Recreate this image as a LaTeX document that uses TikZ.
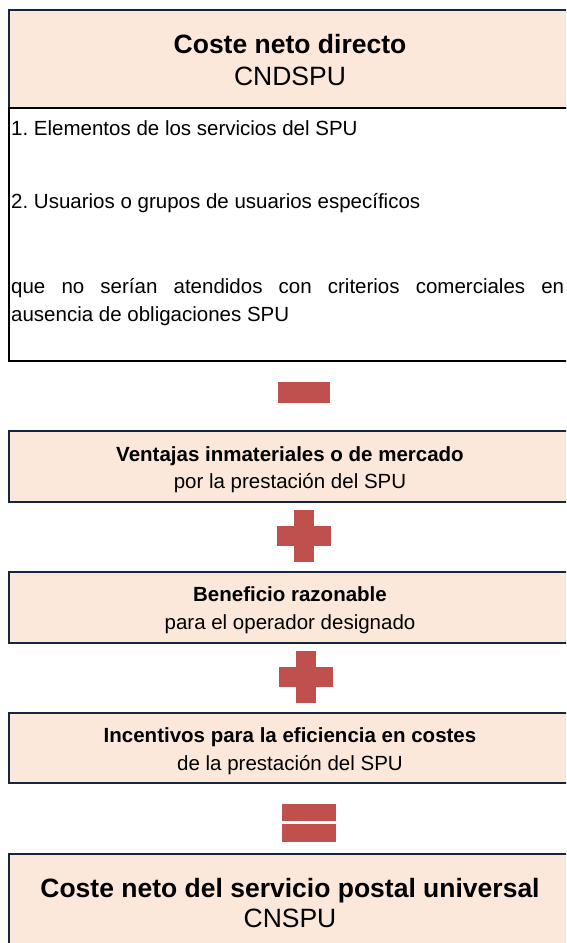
\documentclass[tikz,border=0pt]{standalone}
\usepackage{fontspec}
\setmainfont{Liberation Sans}
\frenchspacing
\definecolor{peach}{HTML}{FCE8DA}
\definecolor{navy}{HTML}{16263F}
\definecolor{signred}{HTML}{C0504D}
\begin{document}
\begin{tikzpicture}[x=1pt,y=-1pt,
  peachbox/.style={fill=peach, draw=navy, line width=2pt},
  whitebox/.style={fill=white, draw=black, line width=2pt},
  signbar/.style={fill=signred, draw=none},
  boldtxt/.style={font=\fontsize{20.5}{24}\selectfont\bfseries, inner sep=0pt, anchor=base},
  regtxt/.style={font=\fontsize{20.5}{24}\selectfont, inner sep=0pt, anchor=base},
  bigbold/.style={font=\fontsize{26.5}{30}\selectfont\bfseries, inner sep=0pt, anchor=base},
  bigreg/.style={font=\fontsize{26.5}{30}\selectfont, inner sep=0pt, anchor=base},
  bodytxt/.style={font=\fontsize{20.5}{24}\selectfont, inner sep=0pt, anchor=base west}]
\useasboundingbox (0,0) rectangle (566,943);
\clip (0,0) rectangle (566,943);
% top box
\draw[peachbox] (9,10) rectangle (590,108);
\draw[whitebox] (9,108) rectangle (590,361);
\node[bigbold] (t1) at (290,53) {Coste neto directo};
\node[bigreg] (t2) at (290,85) {CNDSPU};
\node[bodytxt] (b1) at (11,135) {1. Elementos de los servicios del SPU};
\node[bodytxt] (b2) at (11,208) {2. Usuarios o grupos de usuarios específicos};
\node[bodytxt] (b3) at (11,293) {\makebox[553pt][s]{que no serían atendidos con criterios comerciales en}};
\node[bodytxt] (b4) at (11,321) {ausencia de obligaciones SPU};
% minus
\fill[signbar] (278,382) rectangle (330,403);
% Ventajas
\draw[peachbox] (9,431) rectangle (590,502);
\node[boldtxt] (v1) at (290,461) {Ventajas inmateriales o de mercado};
\node[regtxt] (v2) at (290,488) {por la prestación del SPU};
% plus 1
\fill[signbar] (294,510) rectangle (314,562);
\fill[signbar] (277,526) rectangle (331,546);
% Beneficio
\draw[peachbox] (9,572) rectangle (590,643);
\node[boldtxt] (r1) at (290,601) {Beneficio razonable};
\node[regtxt] (r2) at (290,629) {para el operador designado};
% plus 2
\fill[signbar] (296,651) rectangle (316,703);
\fill[signbar] (279,667) rectangle (333,687);
% Incentivos
\draw[peachbox] (9,713) rectangle (590,783);
\node[boldtxt] (i1) at (290,742) {Incentivos para la eficiencia en costes};
\node[regtxt] (i2) at (290,770) {de la prestación del SPU};
% equals
\fill[signbar] (282,804) rectangle (336,821);
\fill[signbar] (282,824) rectangle (336,842);
% final
\draw[peachbox] (9,854) rectangle (590,960);
\node[bigbold] (f1) at (290,897) {Coste neto del servicio postal universal};
\node[bigreg] (f2) at (290,927) {CNSPU};
\end{tikzpicture}
\end{document}
